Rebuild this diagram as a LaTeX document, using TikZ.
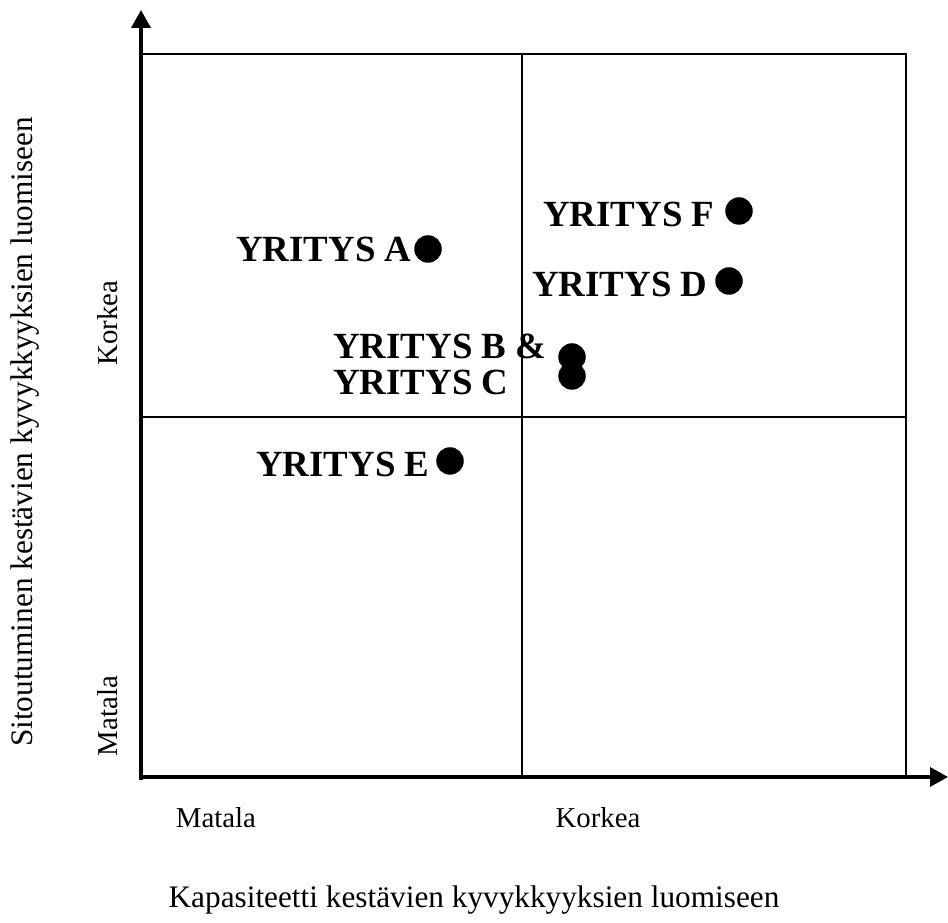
\documentclass[tikz,border=0pt]{standalone}
\usepackage{fontspec}
\setmainfont{Liberation Serif}
\usetikzlibrary{arrows.meta,positioning}
\begin{document}
\begin{tikzpicture}[
    dot/.style={circle, fill=black, minimum size=0.55cm, inner sep=0pt},
    firm/.style={font=\fontsize{21}{20.5}\selectfont\bfseries, inner sep=0pt},
    lbl/.style={font=\fontsize{16.4}{19}\selectfont, inner sep=0pt, anchor=base},
    axistitle/.style={font=\fontsize{17.8}{21}\selectfont, inner sep=0pt, anchor=base}]
    \useasboundingbox (0,0) rectangle (18.96,18.44);
    \draw[line width=1pt] (2.82,2.90) rectangle (18.12,17.36);
    \draw[line width=1pt] (10.44,2.90) -- (10.44,17.36);
    \draw[line width=1pt] (2.82,10.10) -- (18.12,10.10);
    \draw[line width=2pt, -{Triangle[width=0.38cm,length=0.36cm]}] (2.82,2.84) -- (2.82,18.24);
    \draw[line width=2pt, -{Triangle[width=0.38cm,length=0.36cm]}] (2.79,2.90) -- (18.96,2.90);

    \node[dot] (a) at (8.56,13.46) {};
    \node[dot] (f) at (14.78,14.22) {};
    \node[dot] (d) at (14.58,12.82) {};
    \node[dot] (b) at (11.44,11.30) {};
    \node[dot] (c) at (11.44,10.92) {};
    \node[dot] (e) at (9.00,9.22) {};

    \node[firm, left=0.04cm of a] (alabel) {YRITYS A};
    \node[firm, left=0.2cm of f, yshift=-0.07cm] (flabel) {YRITYS F};
    \node[firm, left=0.14cm of d, yshift=-0.07cm] (dlabel) {YRITYS D};
    \node[firm, left=0.22cm of b, yshift=-0.14cm, align=left] (bclabel) {YRITYS B \&\\YRITYS C};
    \node[firm, left=0.12cm of e, yshift=-0.07cm] (elabel) {YRITYS E};

    \node[lbl] (xlow) at (4.32,1.88) {Matala};
    \node[lbl] (xhigh) at (11.96,1.88) {Korkea};
    \node[lbl, rotate=90] (yhigh) at (2.34,11.98) {Korkea};
    \node[lbl, rotate=90] (ylow) at (2.34,4.12) {Matala};
    \node[axistitle] (xtitle) at (9.48,0.28) {Kapasiteetti kestävien kyvykkyyksien luomiseen};
    \node[axistitle, rotate=90] (ytitle) at (0.66,9.80) {Sitoutuminen kestävien kyvykkyyksien luomiseen};
\end{tikzpicture}
\end{document}
